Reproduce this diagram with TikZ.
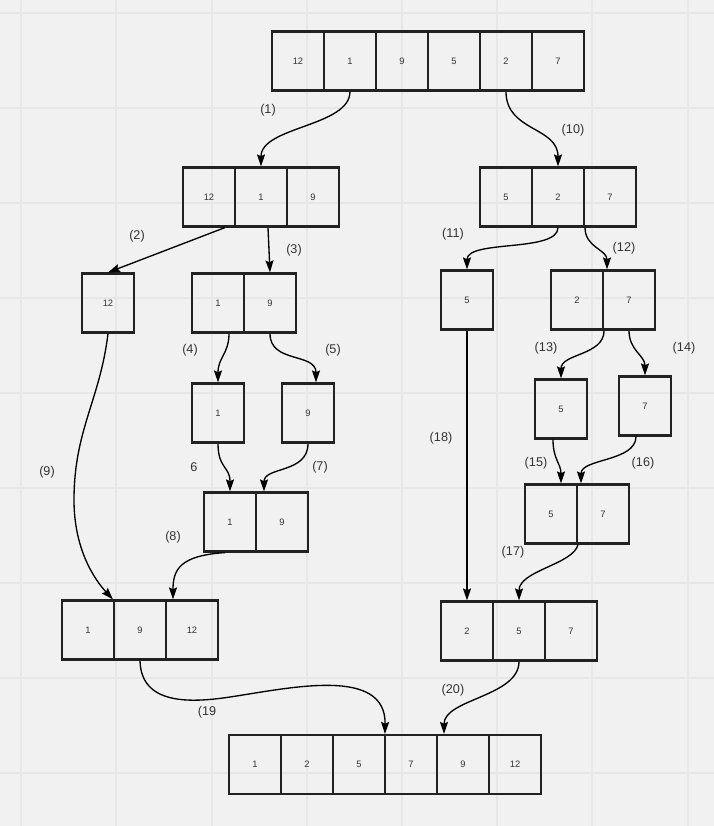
\documentclass[tikz,border=0pt]{standalone}
\usepackage{fontspec}
\setmainfont{Liberation Sans}
\usetikzlibrary{arrows.meta,calc}
\definecolor{bgc}{HTML}{F1F1F1}
\definecolor{gridc}{HTML}{E7E7E7}
\definecolor{txt}{HTML}{333333}
\definecolor{bord}{HTML}{222222}
\begin{document}
\begin{tikzpicture}[x=0.75pt,y=-0.75pt,
  cell/.style={draw=bord,line width=1.6pt,minimum width=39pt,minimum height=44.25pt,inner sep=0pt,font=\fontsize{7}{8}\selectfont,text=txt},
  lbl/.style={font=\fontsize{9.5}{11}\selectfont,text=txt},
  arr/.style={line width=1pt,black,-{Stealth[length=9pt,width=6pt,inset=1.3pt]}},
  gridline/.style={gridc,line width=1.2pt}
]
\fill[bgc] (0,0) rectangle (714,826);
\useasboundingbox (0,0) rectangle (714,826);
\foreach \gx in {21,116,212,307,402,497,592,688} \draw[gridline] (\gx,0) -- (\gx,826);
\foreach \gy in {13,108,203,298,393,488,583,678,773} \draw[gridline] (0,\gy) -- (714,\gy);

% top row
\node[cell] (T1) at (298,61) {12};
\node[cell] (T2) at (350,61) {1};
\node[cell] (T3) at (402,61) {9};
\node[cell] (T4) at (454,61) {5};
\node[cell] (T5) at (506,61) {2};
\node[cell] (T6) at (558,61) {7};
% level 2
\node[cell] (A1) at (209,197) {12};
\node[cell] (A2) at (261,197) {1};
\node[cell] (A3) at (313,197) {9};
\node[cell] (B1) at (506,197) {5};
\node[cell] (B2) at (558,197) {2};
\node[cell] (B3) at (610,197) {7};
% level 3
\node[cell] (C) at (108,303) {12};
\node[cell] (D1) at (218,303) {1};
\node[cell] (D2) at (270,303) {9};
\node[cell] (E) at (467,300) {5};
\node[cell] (F1) at (577,300) {2};
\node[cell] (F2) at (629,300) {7};
% level 4
\node[cell] (G) at (218,413) {1};
\node[cell] (H) at (308,413) {9};
\node[cell] (I) at (561,409) {5};
\node[cell] (J) at (645,406) {7};
% level 5
\node[cell] (K1) at (230,522) {1};
\node[cell] (K2) at (282,522) {9};
\node[cell] (M1) at (551,514) {5};
\node[cell] (M2) at (603,514) {7};
% level 6
\node[cell] (N1) at (88,630) {1};
\node[cell] (N2) at (140,630) {9};
\node[cell] (N3) at (192,630) {12};
\node[cell] (P1) at (467,631) {2};
\node[cell] (P2) at (519,631) {5};
\node[cell] (P3) at (571,631) {7};
% final
\node[cell] (Q1) at (255,764.5) {1};
\node[cell] (Q2) at (307,764.5) {2};
\node[cell] (Q3) at (359,764.5) {5};
\node[cell] (Q4) at (411,764.5) {7};
\node[cell] (Q5) at (463,764.5) {9};
\node[cell] (Q6) at (515,764.5) {12};

\coordinate (c9) at (74,500);
\coordinate (c19) at (230,697);

% connectors
\draw[arr] (T2.south) .. controls +(0,35) and +(0,-40) .. (A2.north);
\draw[arr] (T5.south) .. controls +(0,40) and +(0,-40) .. (B2.north);
\draw[arr] ($(A1.south)+(16,0)$) -- (C.north);
\draw[arr] ($(A2.south)+(7,0)$) -- (D2.north);
\draw[arr] ($(D1.south)+(11,0)$) .. controls +(0,20) and +(0,-25) .. (G.north);
\draw[arr] (D2.south) .. controls +(0,30) and +(0,-30) .. ($(H.north)+(8,0)$);
\draw[arr] (G.south) .. controls +(0,25) and +(0,-25) .. (K1.north);
\draw[arr] (H.south) .. controls +(0,30) and +(0,-25) .. ($(K2.north)+(-18,0)$);
\draw[arr] ($(K1.south)+(-5,0)$) .. controls +(-45,3) and +(0,-30) .. ($(N3.north)+(-19,0)$);
\draw[arr] (C.south) .. controls (100,400) and (74,430) .. (c9) .. controls (74,550) and (95,580) .. (N2.north west);
\draw[arr] (B2.south) .. controls +(0,25) and +(0,-30) .. (E.north);
\draw[arr] ($(B3.south)+(-25,0)$) .. controls +(0,20) and +(0,-20) .. ($(F2.north)+(-22,0)$);
\draw[arr] (F1.south east) .. controls +(0,25) and +(0,-25) .. (I.north);
\draw[arr] (F2.south) .. controls +(0,20) and +(0,-20) .. (J.north);
\draw[arr] ($(I.south)+(-8,0)$) .. controls +(0,20) and +(0,-20) .. ($(M1.north)+(10,0)$);
\draw[arr] ($(J.south)+(-9,0)$) .. controls +(0,25) and +(0,-25) .. ($(M2.north)+(-22,0)$);
\draw[arr] (M1.south east) .. controls +(-5,20) and +(0,-30) .. (P2.north);
\draw[arr] (E.south) -- (P1.north);
\draw[arr] (N2.south) .. controls (141,705) and (190,703) .. (c19) .. controls (290,688) and (386,666) .. ($(Q4.north west)+(1,0)$);
\draw[arr] (P2.south) .. controls +(0,35) and +(0,-35) .. ($(Q5.north)+(-19,0)$);

% labels
\node[lbl] (l1) at (268,110) {(1)};
\node[lbl] (l2) at (137,236) {(2)};
\node[lbl] (l3) at (294,250) {(3)};
\node[lbl] (l4) at (190,350) {(4)};
\node[lbl] (l5) at (333,350) {(5)};
\node[lbl] (l6) at (194,467) {6};
\node[lbl] (l7) at (320,467) {(7)};
\node[lbl] (l8) at (173,537) {(8)};
\node[lbl] (l9) at (47,472) {(9)};
\node[lbl] (l10) at (573,130) {(10)};
\node[lbl] (l11) at (453,234) {(11)};
\node[lbl] (l12) at (624,248) {(12)};
\node[lbl] (l13) at (546,348) {(13)};
\node[lbl] (l14) at (684,348) {(14)};
\node[lbl] (l15) at (536,463) {(15)};
\node[lbl] (l16) at (643,463) {(16)};
\node[lbl] (l17) at (513,552) {(17)};
\node[lbl] (l18) at (441,438) {(18)};
\node[lbl] (l19) at (207,712) {(19};
\node[lbl] (l20) at (453,690) {(20)};
\end{tikzpicture}
\end{document}
